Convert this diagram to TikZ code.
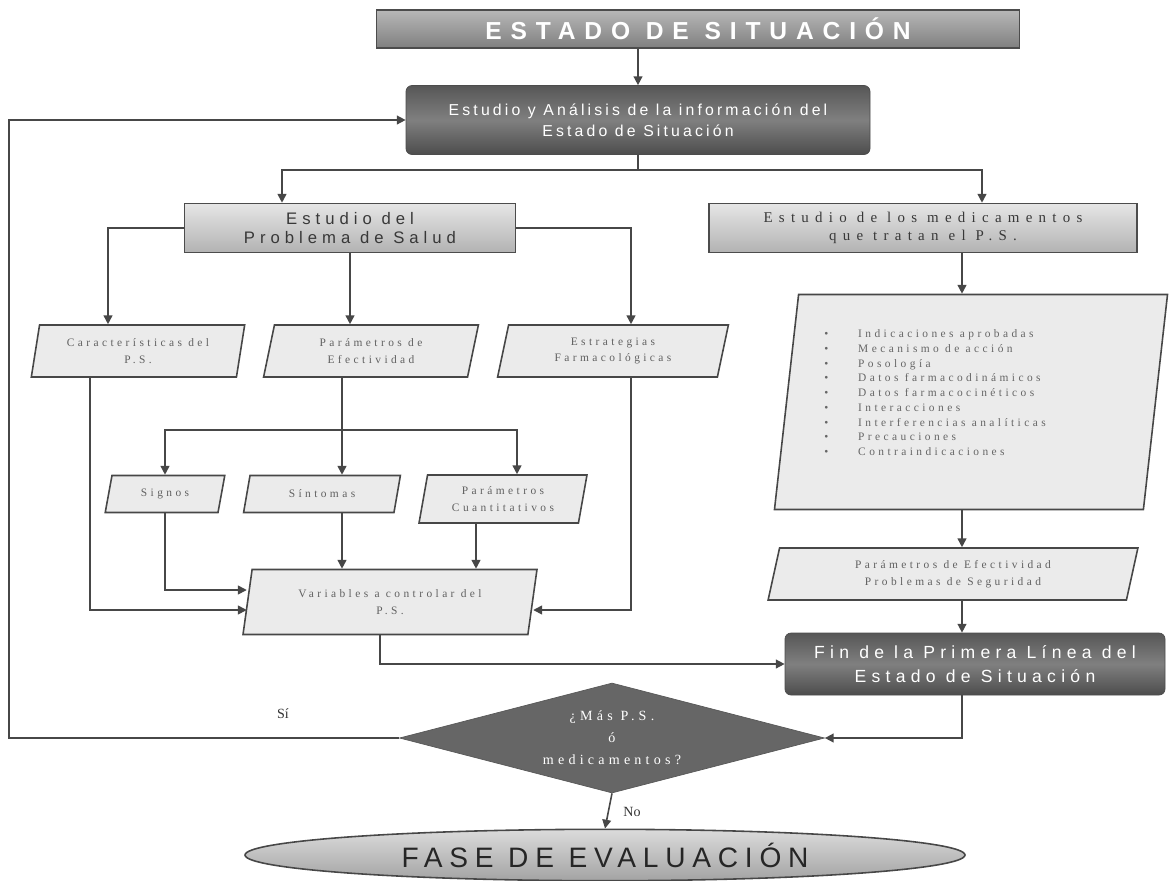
\documentclass[tikz,border=0pt]{standalone}
\usepackage{fontspec}
\setmainfont{Liberation Serif}
\setsansfont{Liberation Sans}
\newfontfamily\titlefont[LetterSpace=36]{Liberation Sans}
\newfontfamily\boxfont[LetterSpace=20]{Liberation Sans}
\newfontfamily\widefont[LetterSpace=30]{Liberation Sans}
\newfontfamily\fasefont[LetterSpace=24]{Liberation Sans}
\newfontfamily\medfont[LetterSpace=42]{Liberation Serif}
\newfontfamily\slfont[LetterSpace=30]{Liberation Serif}
\usepackage{tikz}
\usetikzlibrary{arrows.meta,shapes.geometric,calc}
\newdimen\px \px=0.02cm

\begin{document}
\begin{tikzpicture}[x=0.02cm,y=-0.02cm,
		conn/.style={draw=black!72,line width=0.9pt},
		arr/.style={conn,-{Triangle[length=5pt,width=5pt]}},
		titlebox/.style={draw=black!70,line width=0.9pt,top color=black!28,bottom color=black!50,text=white,font=\titlefont\bfseries\fontsize{14}{16}\selectfont},
		darkbox/.style={draw=black!70,rounded corners=6\px,top color=black!66,bottom color=black!70,middle color=black!50,text=white,align=center},
		lightbox/.style={draw=black!70,line width=0.9pt,top color=black!10,bottom color=black!30,text=black!78,align=center},
		slanted/.style={trapezium,trapezium left angle=80,trapezium right angle=100,trapezium stretches=true,draw=black!72,line width=0.9pt,fill=black!8,text=black!62,align=center,font=\slfont\fontsize{6.5}{9.5}\selectfont},
		lbl/.style={font=\fontsize{8}{10}\selectfont,text=black!80}
	]
	\useasboundingbox (0,0) rectangle (1171,880);
	
	\node[titlebox,minimum width=643\px,minimum height=38\px] (estado) at (698,29) {ESTADO DE SITUACIÓN};
	\node[darkbox,minimum width=464\px,minimum height=69\px,font=\boxfont\fontsize{9}{12}\selectfont] (analisis) at (638,120) {Estudio y Análisis de la información del\\Estado de Situación};
	\node[lightbox,minimum width=331\px,minimum height=49\px,font=\widefont\fontsize{9.5}{11}\selectfont] (problema) at (350,228) {Estudio del\\Problema de Salud};
	\node[lightbox,minimum width=428\px,minimum height=49\px,font=\medfont\fontsize{8.5}{10.5}\selectfont] (medic) at (923,228) {Estudio de los medicamentos\\que tratan el P.S.};
	
	\node[slanted,minimum width=214\px,minimum height=52\px] (caract) at (138,351) {Características del\\P.S.};
	\node[slanted,minimum width=215\px,minimum height=52\px] (paramef) at (371,351) {Parámetros de\\Efectividad};
	\node[slanted,minimum width=232\px,minimum height=52\px] (estrat) at (613,351) {Estrategias\\Farmacológicas};
	
	\node[slanted,minimum width=120\px,minimum height=37\px] (signos) at (165,494) {Signos};
	\node[slanted,minimum width=157\px,minimum height=37\px] (sintomas) at (322,494) {Síntomas};
	\node[slanted,minimum width=169\px,minimum height=48\px] (cuanti) at (503,499) {Parámetros\\Cuantitativos};
	\node[slanted,minimum width=294\px,minimum height=65\px] (variables) at (390,602) {Variables a controlar del\\P.S.};
	
	\node[slanted,trapezium left angle=86,trapezium right angle=94,minimum width=393\px,minimum height=215\px] (lista) at (971,402) {};
	\node[anchor=north west,inner sep=0pt,text=black!60,font=\slfont\fontsize{6.5}{8.4}\selectfont] (items) at (824,327) {%
		\begin{tabular}{@{}l@{\hspace{17pt}}l@{}}
			• & Indicaciones aprobadas\\
			• & Mecanismo de acción\\
			• & Posología\\
			• & Datos farmacodinámicos\\
			• & Datos farmacocinéticos\\
			• & Interacciones\\
			• & Interferencias analíticas\\
			• & Precauciones\\
			• & Contraindicaciones
		\end{tabular}};
	\node[slanted,minimum width=370\px,minimum height=52\px] (efseg) at (953,574) {Parámetros de Efectividad\\Problemas de Seguridad};
	\node[darkbox,minimum width=380\px,minimum height=62\px,font=\widefont\fontsize{10}{13.5}\selectfont] (fin) at (975,664) {Fin de la Primera Línea del\\Estado de Situación};
	
	\node[diamond,aspect=4,minimum width=425\px,minimum height=110\px,inner sep=0pt,draw=black!65,fill=black!60,text=white,align=center,font=\slfont\fontsize{8}{12.5}\selectfont] (decision) at (612,738) {¿Más P.S.\\ó\\medicamentos?};
	\node[ellipse,minimum width=720\px,minimum height=46\px,draw=black!72,line width=0.9pt,top color=black!14,bottom color=black!36,text=black!85,font=\fasefont\fontsize{16}{18}\selectfont] (fase) at (605,855) {FASE DE EVALUACIÓN};
	\node[lbl] (si) at (283,714) {Sí};
	\node[lbl] (no) at (632,812) {No};
	
	\coordinate (split1) at ($(analisis.south)+(0,15)$);
	\coordinate (split2) at (342,430);
	\coordinate (colR) at (962,0);
	
	\draw[arr] (estado.south -| analisis.north) -- (analisis.north);
	\draw[conn] (analisis.south) -- (split1);
	\draw[arr] (split1) -| ([xshift=-68\px]problema.north);
	\draw[arr] (split1) -| ([xshift=59\px]medic.north);
	
	\draw[arr] (problema.west) -| ([xshift=-30\px]caract.north);
	\draw[arr] (problema.south) -- (problema.south |- paramef.north);
	\draw[arr] (problema.east) -| ([xshift=18\px]estrat.north);
	
	\draw[conn] ([xshift=-29\px]paramef.south) -- (split2);
	\draw[arr] (split2) -| (signos.north);
	\draw[arr] (split2) -- (split2 |- sintomas.north);
	\draw[arr] (split2) -| ([xshift=14\px]cuanti.north);
	
	\draw[arr] ([xshift=-48\px]caract.south) |- ([yshift=-8\px]variables.west);
	\draw[arr] (signos.south) |- ([yshift=12\px]variables.west);
	\draw[arr] (sintomas.south -| split2) -- (variables.north -| split2);
	\draw[arr] ([xshift=-27\px]cuanti.south) -- ([xshift=-27\px]cuanti.south |- variables.north);
	\draw[arr] ([xshift=18\px]estrat.south) |- ([yshift=-8\px]variables.east);
	\draw[arr] ([xshift=-10\px]variables.south) |- (fin.west);
	
	\draw[arr] (medic.south -| colR) -- (lista.north -| colR);
	\draw[arr] (lista.south -| colR) -- (efseg.north -| colR);
	\draw[arr] (efseg.south -| colR) -- (fin.north -| colR);
	\draw[arr] (fin.south -| colR) |- (decision.east);
	
	\draw[arr] (decision.west) -- ++(-390,0) |- (analisis.west);
	\draw[arr] (decision.south) -- (fase.north);
\end{tikzpicture}
\end{document}
